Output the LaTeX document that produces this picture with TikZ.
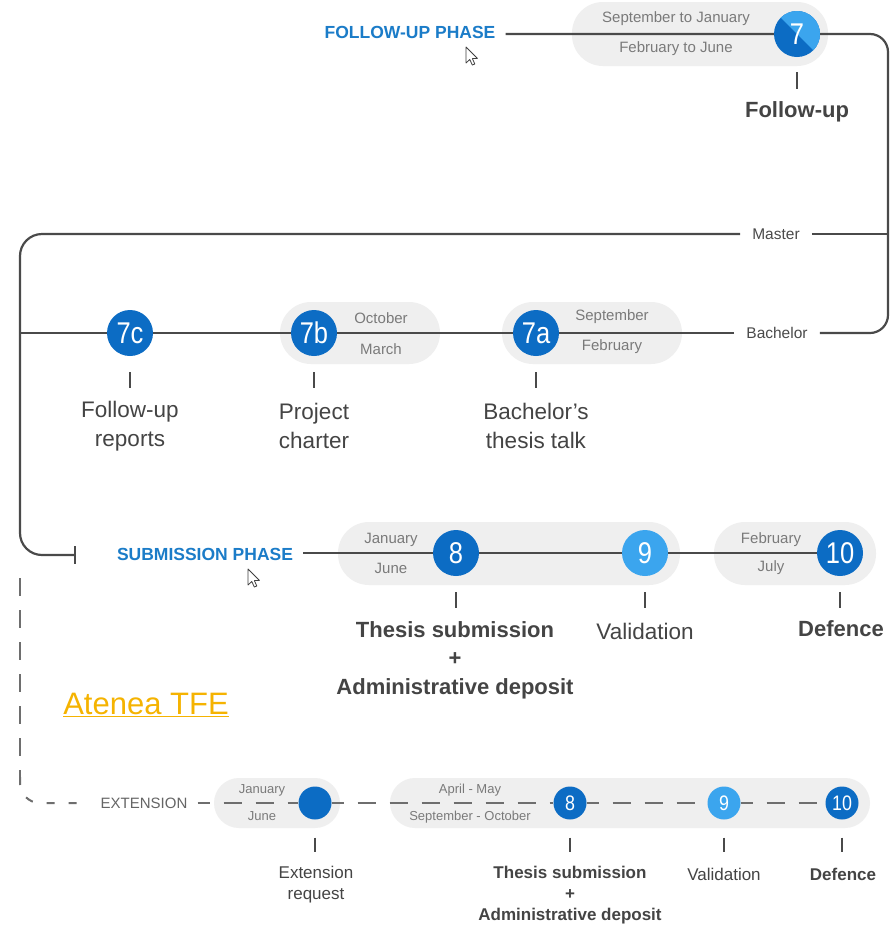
\documentclass[tikz,border=0pt]{standalone}
\usepackage{fontspec}
\setmainfont{Liberation Sans}
\newfontfamily\numfont[FakeStretch=0.85]{Liberation Sans}
\usetikzlibrary{arrows.meta}
\pgfdeclarelayer{bg}
\pgfsetlayers{bg,main}
\definecolor{dblue}{HTML}{0C6CC4}
\definecolor{lblue}{HTML}{3BA5EE}
\definecolor{lineg}{HTML}{4A4A4A}
\definecolor{pillg}{HTML}{EFEFEF}
\definecolor{smallg}{HTML}{7A7A7A}
\definecolor{labg}{HTML}{444444}
\definecolor{phaseb}{HTML}{1B7CC8}
\definecolor{atenea}{HTML}{F5B301}
\tikzset{
  tl/.style={draw=lineg, line width=2.2pt},
  dl/.style={draw=lineg!80, line width=2pt, dash pattern=on 18pt off 14pt},
  dls/.style={draw=lineg!80, line width=2pt, dash pattern=on 8pt off 14pt},
  tickl/.style={draw=lineg, line width=1.6pt},
  pillbox/.style={fill=pillg, rounded corners=31pt, inner sep=0pt},
  pillsm/.style={fill=pillg, rounded corners=25pt, inner sep=0pt},
  numc/.style={circle, fill=dblue, text=white, minimum size=46pt, inner sep=0pt, font=\numfont\fontsize{30}{30}\selectfont},
  numl/.style={numc, fill=lblue},
  numsm/.style={circle, fill=dblue, text=white, minimum size=33pt, inner sep=0pt, font=\numfont\fontsize{21}{21}\selectfont},
  numsml/.style={numsm, fill=lblue},
  small/.style={text=smallg, inner sep=0pt, font=\fontsize{15}{15}\selectfont},
  tiny/.style={text=smallg, inner sep=0pt, font=\fontsize{13}{13}\selectfont},
  mid/.style={text=lineg, inner xsep=12pt, font=\fontsize{15.5}{15.5}\selectfont},
  phase/.style={text=phaseb, inner xsep=10pt, font=\bfseries\fontsize{17.5}{17.5}\selectfont},
  big/.style={text=labg, align=center, inner sep=0pt, font=\fontsize{22.5}{29.5}\selectfont},
  bigb/.style={text=labg, align=center, inner sep=0pt, font=\bfseries\fontsize{22}{28.5}\selectfont},
  smallb/.style={text=labg, align=center, inner sep=0pt, font=\bfseries\fontsize{17}{21}\selectfont},
  smalln/.style={text=labg, align=center, inner sep=0pt, font=\fontsize{17}{21}\selectfont},
  mcursor/.pic={\draw[black!75, fill=white, line width=0.8pt, line join=round] (0,0) -- (0,16) -- (3.8,12.5) -- (6.3,18) -- (8.8,17) -- (6.4,11.6) -- (11.4,11.4) -- cycle;}
}
\begin{document}
\begin{tikzpicture}[x=1pt, y=-1pt]
\begin{pgfonlayer}{bg}
\fill[white] (0,0) rectangle (892,927);
\end{pgfonlayer}
\useasboundingbox (0,0) rectangle (892,927);

% ---------- pills ----------
\begin{pgfonlayer}{bg}
\node[pillbox, minimum width=256pt, minimum height=64pt] (p7) at (700,34) {};
\node[pillbox, minimum width=160pt, minimum height=62pt] (p7b) at (360,333) {};
\node[pillbox, minimum width=180pt, minimum height=62pt] (p7a) at (592,333) {};
\node[pillbox, minimum width=342pt, minimum height=63pt] (p8) at (509,553.5) {};
\node[pillbox, minimum width=162pt, minimum height=63pt] (p10) at (795,553.5) {};
\node[pillsm, minimum width=126pt, minimum height=50pt] (pe) at (277,803) {};
\node[pillsm, minimum width=480pt, minimum height=50pt] (pe2) at (630,803) {};
\end{pgfonlayer}

% ---------- follow-up phase ----------
\node[phase] (fph) at (410,32) {FOLLOW-UP PHASE};
\pic at (466,47) {mcursor};
\node[small] (d7a) at (676,19) {September to January};
\node[small] (d7b) at (676,49) {February to June};
\node[numc, path picture={\fill[lblue] (path picture bounding box.north west) -- (path picture bounding box.north east) -- (path picture bounding box.south east) -- cycle;}] (c7) at (797,34) {7};
\node[bigb] (l7) at (797,112) {Follow-up};

\node[mid] (master) at (776,234) {Master};
\node[mid] (bach) at (777,333) {Bachelor};

% ---------- 7a 7b 7c ----------
\node[numc] (c7c) at (130,333) {7c};
\node[numc] (c7b) at (314,333) {7b};
\node[numc] (c7a) at (536,333) {7a};
\node[small] (d7bo) at (381,318) {October};
\node[small] (d7bm) at (381,349) {March};
\node[small] (d7as) at (612,317) {September};
\node[small] (d7af) at (612,347) {February};
\node[big] (l7c) at (130,426) {Follow-up\\reports};
\node[big] (l7b) at (314,426) {Project\\charter};
\node[big] (l7a) at (536,426) {Bachelor’s\\thesis talk};

% ---------- submission phase ----------
\node[phase] (sph) at (205,554) {SUBMISSION PHASE};
\pic at (248,569) {mcursor};
\node[numc] (c8) at (456,553) {8};
\node[numl] (c9) at (645,553) {9};
\node[numc] (c10) at (840,553) {10};
\node[small] (d8j) at (391,540) {January};
\node[small] (d8u) at (391,568) {June};
\node[small] (d10f) at (771,540) {February};
\node[small] (d10j) at (771,568) {July};
\node[bigb] (l8) at (455,660) {Thesis submission\\+\\Administrative deposit};
\node[big] (l9) at (645,631) {Validation};
\node[bigb] (l10) at (841,629) {Defence};

\node[text=atenea, inner sep=0pt, font=\fontsize{31}{31}\selectfont] (atn) at (146,705) {\underline{Atenea TFE}};

% ---------- extension ----------
\node[text=lineg!85, inner xsep=10pt, font=\fontsize{15}{15}\selectfont] (ext) at (144,803) {EXTENSION};
\node[numsm] (ce) at (315,803) {};
\node[numsm] (e8) at (570,803) {8};
\node[numsml] (e9) at (724,803) {9};
\node[numsm] (e10) at (842,803) {10};
\node[tiny] (dej) at (262,790) {January};
\node[tiny] (dev) at (262,816) {June};
\node[tiny] (dea) at (470,790) {April - May};
\node[tiny] (des) at (470,817) {September - October};
\node[smalln] (le) at (316,884.5) {Extension\\request};
\node[smallb] (le8) at (570,895) {Thesis submission\\+\\Administrative deposit};
\node[smalln] (le9) at (724,874) {Validation};
\node[smallb] (le10) at (843,874) {Defence};

% ---------- coordinates ----------
\coordinate (tr) at (888,34);
\coordinate (br) at (888,333);
\coordinate (mr) at (888,234);
\coordinate (ml) at (20,234);
\coordinate (sl) at (20,555);
\coordinate (subbar) at (76,555);
\coordinate (bl) at (20,333);
\coordinate (dtop) at (20,578);
\coordinate (dcorner) at (20,803);

% ---------- connectors ----------
\begin{pgfonlayer}{bg}
\draw[tl, rounded corners=18pt] (fph.east |- c7) -- (c7) -- (tr) -- (br) -- (bach.east);
\draw[tl] (master.east) -- (mr);
\draw[tl, rounded corners=22pt, -{Bar[width=18pt,line width=2pt]}] (master.west) -- (ml) -- (sl) -- (subbar);
\draw[tl] (bach.west) -- (c7a) -- (c7b) -- (c7c) -- (bl);
\draw[tl] (sph.east |- c8) -- (c8) -- (c9) -- (c10);
\draw[dl] (dtop) -- ([yshift=22pt]dcorner);
\draw[dls, rounded corners=20pt] ([yshift=26pt]dcorner) -- (dcorner) -- (ext.west);
\draw[dl, dash phase=6pt] (ext.east) -- (ce) -- (e8) -- (e9) -- (e10);
\end{pgfonlayer}

% ---------- ticks ----------
\foreach \n in {c7c,c7b,c7a,c8,c9,c10}{
  \draw[tickl] ([yshift=-16pt]\n.south) -- ([yshift=-32pt]\n.south);
}
\draw[tickl] ([yshift=-15pt]c7.south) -- ([yshift=-32pt]c7.south);
\foreach \n in {ce,e8,e9,e10}{
  \draw[tickl] ([yshift=-18pt]\n.south) -- ([yshift=-32pt]\n.south);
}
\end{tikzpicture}
\end{document}
